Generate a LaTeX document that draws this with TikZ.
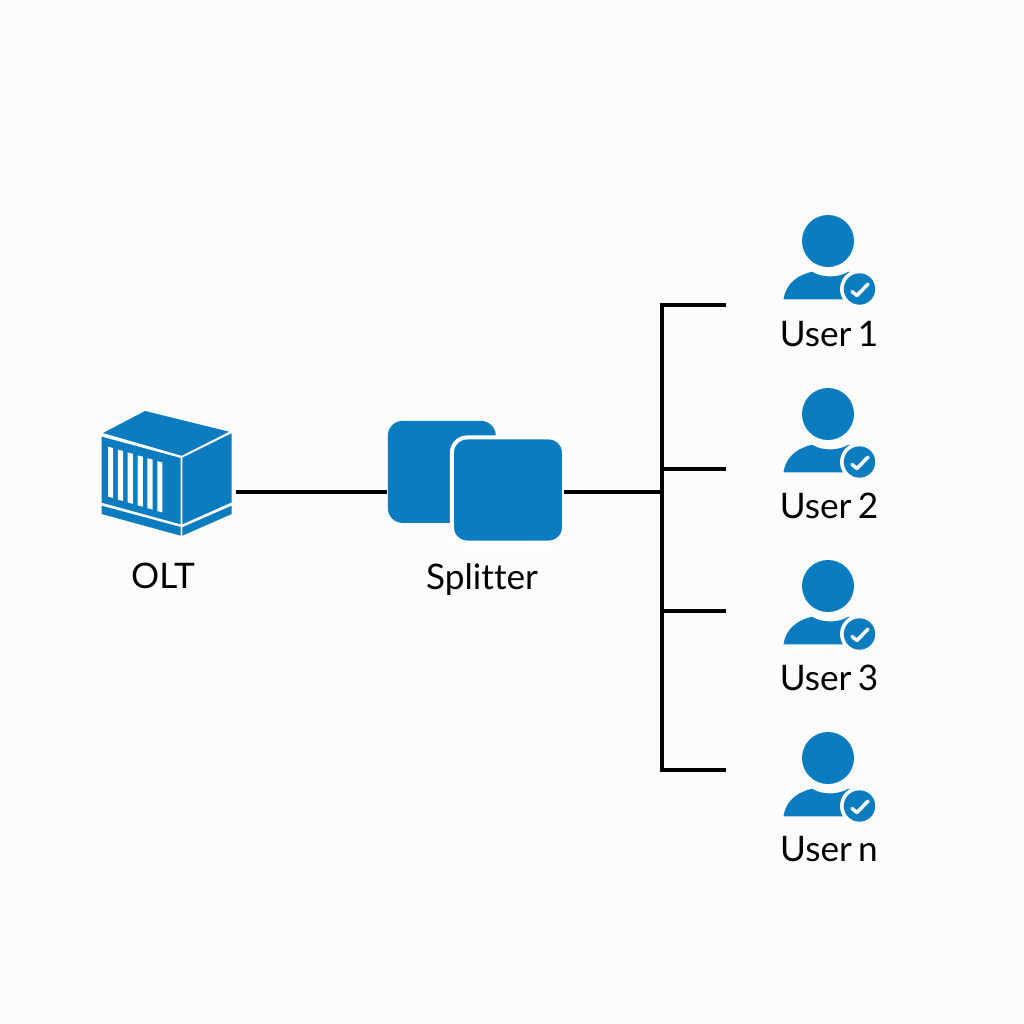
\documentclass[tikz,border=0pt]{standalone}
\usepackage{fontspec}
\setmainfont[Ligatures=NoCommon,WordSpace=0.7]{Lato}
\usepackage{tikz}
\definecolor{iconblue}{HTML}{0A7CBF}
\definecolor{paper}{HTML}{FCFCFC}

\begin{document}
\begin{tikzpicture}[x=0.01cm,y=-0.01cm]
        \tikzset{icon/.style = {fill=iconblue,draw=none}}
        \tikzset{square/.style = {shape=rectangle,fill=iconblue,rounded corners=0.15cm}}
        \tikzset{tag/.style = {font=\fontsize{10pt}{12pt}\selectfont,text=black,inner sep=0pt}}
        \tikzset{edge/.style = {-,line width=0.04cm,black}}
        \tikzset{usericon/.pic = {
            \fill[icon] (0,0) circle (26);
            \fill[icon] (-44.5,58.3) .. controls (-42,42) and (-30,34) .. (-16,30.7)
                .. controls (-6,37) and (10,37) .. (20.5,30.7)
                .. controls (30,33) and (38,38) .. (44,50) -- (30,58.3) -- cycle;
            \fill[paper] (31.5,48) circle (19.5);
            \fill[icon] (31.5,48) circle (15.7);
            \draw[white,line width=0.035cm,line cap=round,line join=round] (24,50.5) -- (29,54.5) -- (40,43);
        }}

        \fill[paper] (0,0) rectangle (1024,1024);
        \useasboundingbox (0,0) rectangle (1024,1024);

        % OLT box
        \node[minimum width=1.3cm,minimum height=1.0cm,inner sep=0pt,outer sep=0.04cm] (OLT) at (166.7,492) {};
        \fill[icon] (145,411) -- (229,431.7) -- (181.7,455.7) -- (103,433) -- cycle;
        \fill[icon] (101.7,436.7) -- (180.7,458) -- (180.7,524.3) -- (101.7,502.7) -- cycle;
        \fill[icon] (182.3,457.7) -- (231.7,433.3) -- (231.7,502.3) -- (182.3,524.3) -- cycle;
        \fill[icon] (101.7,505.7) -- (180.7,527) -- (180.7,535.7) -- (101.7,514) -- cycle;
        \fill[icon] (182.3,527.3) -- (231.7,505.7) -- (231.7,514) -- (182.3,535.7) -- cycle;
        \foreach \i in {0,...,5} {
            \fill[white] (108+\i*9.85,446.7+\i*2.87) -- ++(5.2,1.4) -- ++(0,50) -- ++(-5.2,-1.4) -- cycle;
        }

        \node[square,minimum width=1.08cm,minimum height=1.02cm] (S1) at (441.8,471.9) {};
        \node[square,draw=white,line width=0.04cm,outer sep=0pt,minimum width=1.12cm,minimum height=1.05cm] (S2) at (508,490) {};

        \pic at (828,241) {usericon};
        \pic at (828,414) {usericon};
        \pic at (828,586) {usericon};
        \pic at (828,758) {usericon};

        \node[tag] (OLTtag) at (163,576) {OLT};
        \node[tag] (S1tag) at (482,580) {Splitter};
        \node[tag] (U1) at (829,334) {User 1};
        \node[tag] (U2) at (829,506) {User 2};
        \node[tag] (U3) at (829,678) {User 3};
        \node[tag] (U4) at (829,849) {User n};

        \coordinate (B0) at (662,492);
        \coordinate (B1) at (662,305);
        \coordinate (B2) at (662,469);
        \coordinate (B3) at (662,611);
        \coordinate (B4) at (662,770);
        \coordinate (E1) at (726,305);
        \coordinate (E2) at (726,469);
        \coordinate (E3) at (726,611);
        \coordinate (E4) at (726,770);

        \draw[edge] (OLT.east) to (S1.west |- OLT.east);
        \draw[edge] (S2.east |- B0) to (B0);
        \draw[edge] (E1) -- (B1) -- (B4) -- (E4);
        \draw[edge] (B2) to (E2);
        \draw[edge] (B3) to (E3);
    \end{tikzpicture}
\end{document}
